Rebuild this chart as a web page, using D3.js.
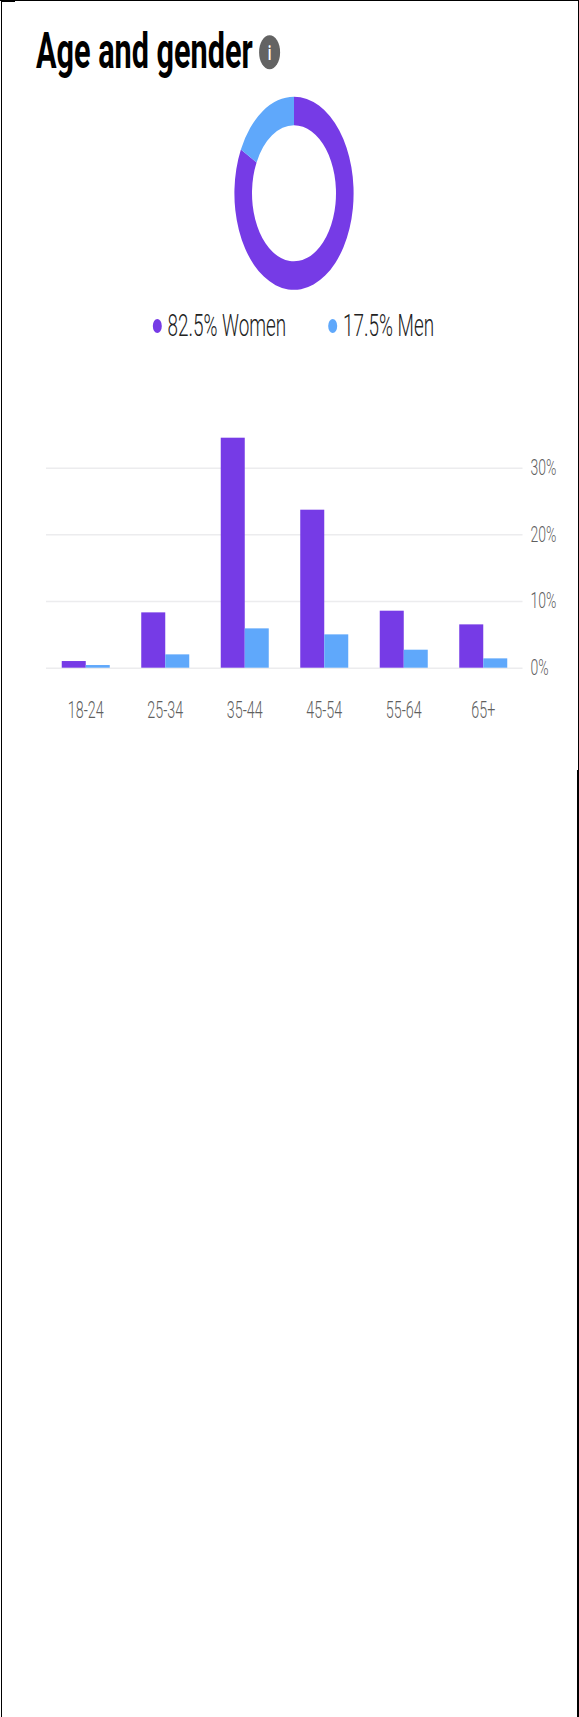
<!DOCTYPE html>
<html>
<head>
<meta charset="utf-8">
<script src="https://cdn.jsdelivr.net/npm/d3@7"></script>
<style>
  html, body { margin: 0; padding: 0; background: #fff; }
  svg { display: block; }
  text { font-family: Roboto, sans-serif; }
</style>
</head>
<body>
<svg id="chart" width="579" height="1717"></svg>
<script>
// the source screenshot is stretched vertically, so everything is scaled by this
var stretch = 1.62;

var genders = ["Women", "Men"];
var genderShares = [82.5, 17.5];
var ageGroups = ["18-24", "25-34", "35-44", "45-54", "55-64", "65+"];
var womenValues = [1.0, 8.3, 34.5, 23.7, 8.55, 6.5];
var menValues = [0.4, 2.0, 5.9, 5.0, 2.7, 1.4];
var yTicks = [0, 10, 20, 30];

var purple = "#763be6";
var blue = "#5fa8fb";
var color = d3.scaleOrdinal().domain(genders).range([purple, blue]);

var svg = d3.select("#chart");
svg.append("rect").attr("width", 579).attr("height", 1717).attr("fill", "#fff");

// stretched text helper
function stretchedText(parent, x, y, size, weight, fill, str) {
    return parent.append("text")
        .attr("transform", "translate(" + x + "," + y + ") scale(1," + stretch + ")")
        .attr("font-size", size)
        .attr("font-weight", weight)
        .attr("fill", fill)
        .text(str);
}

// title
stretchedText(svg, 36, 68, 30.6, 700, "#000", "Age and gender");
var info = svg.append("g").attr("transform", "translate(269.6,52.3) scale(1," + stretch + ")");
info.append("circle").attr("r", 10.5).attr("fill", "#636363");
info.append("text").attr("text-anchor", "middle").attr("y", 4.5)
    .attr("font-size", 12).attr("font-weight", 700).attr("fill", "#fff").text("i");

// donut
var pie = d3.pie().sort(null);
var arc = d3.arc().innerRadius(42).outerRadius(59.6);
var donut = svg.append("g").attr("transform", "translate(294,193.3) scale(1," + stretch + ")");
donut.selectAll("path")
    .data(pie(genderShares))
    .enter().append("path")
    .attr("d", arc)
    .attr("fill", function (d, i) { return color(genders[i]); });

// legend
var legendDotX = [157.3, 332.7];
var legendTextX = [167.5, 343];
genders.forEach(function (g, i) {
    svg.append("ellipse")
        .attr("cx", legendDotX[i]).attr("cy", 326)
        .attr("rx", 4.5).attr("ry", 7)
        .attr("fill", color(g));
    stretchedText(svg, legendTextX[i], 336, 18.9, 300, "#222", genderShares[i] + "% " + g);
});

// bars
var x0 = d3.scaleBand().domain(ageGroups).range([46, 523]);
var x1 = d3.scaleBand().domain(genders).range([-24, 24]);
var y = d3.scaleLinear().domain([0, 30]).range([667.7, 467.7]);

var gridAxis = d3.axisRight(y).tickValues(yTicks).tickSize(476.5).tickFormat("");
var grid = svg.append("g").attr("transform", "translate(46,0)").call(gridAxis);
grid.select(".domain").remove();
grid.selectAll("line").attr("stroke", "#ececee").attr("stroke-width", 1.5);

var yLabels = svg.append("g").attr("transform", "translate(530.6,0)")
    .call(d3.axisRight(y).tickValues(yTicks).tickSize(0).tickPadding(0).tickFormat(function (d) { return d + "%"; }));
yLabels.select(".domain").remove();
yLabels.selectAll("text")
    .attr("dy", null)
    .attr("transform", "translate(0,6.7) scale(1," + stretch + ")")
    .attr("font-size", 14).attr("font-weight", 300).attr("font-family", "Roboto, sans-serif").attr("fill", "#5f5f5f");

var series = [womenValues, menValues];
genders.forEach(function (g, s) {
    svg.append("g").selectAll("rect")
        .data(series[s])
        .enter().append("rect")
        .attr("x", function (d, i) { return x0(ageGroups[i]) + x0.bandwidth() / 2 + x1(g); })
        .attr("y", function (d) { return y(d); })
        .attr("width", x1.bandwidth())
        .attr("height", function (d) { return y(0) - y(d); })
        .attr("fill", color(g));
});

var xLabels = svg.append("g").attr("transform", "translate(0,667.7)")
    .call(d3.axisBottom(x0).tickSize(0).tickPadding(0));
xLabels.select(".domain").remove();
xLabels.selectAll("text")
    .attr("y", 0).attr("dy", null)
    .attr("transform", "translate(0,50.5) scale(1," + stretch + ")")
    .attr("font-size", 14.3).attr("font-weight", 300).attr("font-family", "Roboto, sans-serif").attr("fill", "#5f5f5f");

// black edges left over in the screenshot
var edges = svg.append("g").attr("fill", "#000");
edges.append("rect").attr("x", 0).attr("y", 0).attr("width", 579).attr("height", 1);
edges.append("rect").attr("x", 1).attr("y", 0).attr("width", 1).attr("height", 1717);
edges.append("rect").attr("x", 1).attr("y", 0).attr("width", 14).attr("height", 2);
edges.append("rect").attr("x", 578).attr("y", 0).attr("width", 1).attr("height", 770);
edges.append("rect").attr("x", 577).attr("y", 770).attr("width", 2).attr("height", 947);
</script>
</body>
</html>
